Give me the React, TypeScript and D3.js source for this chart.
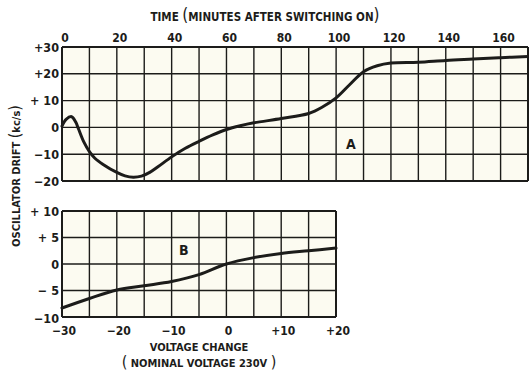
import React from "react";
import * as d3 from "d3";

// curve A: oscillator drift vs time after switching on
const timeMinutes = [0, 1.5, 3.5, 5, 6, 8, 10, 12, 15, 20, 23, 26, 29, 32, 35, 40, 45, 50, 55, 60, 65, 70, 80, 90, 95, 100, 105, 110, 115, 120, 130, 140, 150, 160, 170];
const driftA = [0.5, 3, 4, 2, -0.5, -5.5, -9, -11.5, -13.8, -16.8, -18.1, -18.6, -18.2, -16.8, -14.7, -11, -7.8, -5.2, -2.8, -0.8, 0.6, 1.7, 3.3, 5.2, 7.6, 11, 16, 20.8, 23, 24, 24.3, 25, 25.5, 26, 26.5];

// curve B: oscillator drift vs supply voltage change
const voltageChange = [-30, -25, -20, -15, -10, -5, 0, 5, 10, 15, 20];
const driftB = [-8.3, -6.5, -4.9, -4.1, -3.3, -2, 0, 1.2, 2, 2.5, 3];

const timeTicks = [0, 20, 40, 60, 80, 100, 120, 140, 160];
const driftTicksA = [30, 20, 10, 0, -10, -20];
const driftLabelsA = ["+30", "+20", "+ 10", "0", "\u221210", "\u221220"];
const voltTicks = [-30, -20, -10, 0, 10, 20];
const voltLabels = ["\u221230", "\u221220", "\u221210", "0", "+10", "+20"];
const driftTicksB = [10, 5, 0, -5, -10];
const driftLabelsB = ["+ 10", "+ 5", "0", "\u2212 5", "\u221210"];

const ink = "#1c1c1a";
const font = "'DejaVu Sans', sans-serif";

export default function App() {
  const width = 529;
  const height = 372;

  const xA = d3.scaleLinear().domain([0, 170]).range([62, 528]);
  const yA = d3.scaleLinear().domain([-20, 30]).range([181, 47]);
  const xB = d3.scaleLinear().domain([-30, 20]).range([62, 336]);
  const yB = d3.scaleLinear().domain([-10, 10]).range([317, 211]);

  const lineA = d3
    .line<number>()
    .x((d, i) => xA(timeMinutes[i]))
    .y((d) => yA(d))
    .curve(d3.curveCatmullRom.alpha(0.5));
  const lineB = d3
    .line<number>()
    .x((d, i) => xB(voltageChange[i]))
    .y((d) => yB(d))
    .curve(d3.curveCatmullRom.alpha(0.5));

  const gridA = d3.range(0, 171, 10);
  const gridYA = d3.range(-20, 31, 10);
  const gridB = d3.range(-30, 21, 5);
  const gridYB = d3.range(-10, 11, 5);

  const txt = { fontFamily: font, fontWeight: 700, fontStretch: "condensed", fill: ink } as const;

  return (
    <svg
      width={width}
      height={height}
      style={{ position: "absolute", left: 0, top: 0, background: "#fff" }}
    >
      {/* top chart grid */}
      <rect x={xA(0)} y={yA(30)} width={xA(170) - xA(0)} height={yA(-20) - yA(30)} fill="#fcfbf1" />
      {gridA.map((t) => (
        <line key={"va" + t} x1={xA(t)} x2={xA(t)} y1={yA(30)} y2={yA(-20)} stroke={ink} strokeWidth={t === 0 || t === 170 ? 2 : 1.4} />
      ))}
      {gridYA.map((v) => (
        <line key={"ha" + v} x1={xA(0)} x2={xA(170)} y1={yA(v)} y2={yA(v)} stroke={ink} strokeWidth={v === 30 || v === -20 ? 2 : 1.4} />
      ))}

      {/* bottom chart grid */}
      <rect x={xB(-30)} y={yB(10)} width={xB(20) - xB(-30)} height={yB(-10) - yB(10)} fill="#fcfbf1" />
      {gridB.map((t) => (
        <line key={"vb" + t} x1={xB(t)} x2={xB(t)} y1={yB(10)} y2={yB(-10)} stroke={ink} strokeWidth={t === -30 || t === 20 ? 2 : 1.4} />
      ))}
      {gridYB.map((v) => (
        <line key={"hb" + v} x1={xB(-30)} x2={xB(20)} y1={yB(v)} y2={yB(v)} stroke={ink} strokeWidth={v === 10 || v === -10 ? 2 : 1.4} />
      ))}

      {/* curves */}
      <path d={lineA(driftA) || ""} fill="none" stroke={ink} strokeWidth={3} strokeLinecap="round" />
      <path d={lineB(driftB) || ""} fill="none" stroke={ink} strokeWidth={3} strokeLinecap="round" />

      <text x={346} y={149} fontSize={14} {...txt}>A</text>
      <text x={179} y={255} fontSize={14} {...txt}>B</text>

      {/* top axis */}
      <text x={265} y={21} fontSize={11.5} textAnchor="middle" {...txt}>
        TIME <tspan fontSize={17} fontWeight={400}>(</tspan>MINUTES AFTER SWITCHING ON<tspan fontSize={17} fontWeight={400}>)</tspan>
      </text>
      {timeTicks.map((t) => (
        <text key={"tt" + t} x={xA(t) + 3} y={42} fontSize={12} textAnchor="middle" {...txt}>
          {t}
        </text>
      ))}
      {driftTicksA.map((v, i) => (
        <text key={"ya" + v} x={59} y={yA(v) + 4.5} fontSize={12.5} textAnchor="end" {...txt}>
          {driftLabelsA[i]}
        </text>
      ))}

      {/* bottom axis */}
      {voltTicks.map((t, i) => (
        <text key={"vt" + t} x={xB(t) + 2} y={335} fontSize={12} textAnchor="middle" {...txt}>
          {voltLabels[i]}
        </text>
      ))}
      {driftTicksB.map((v, i) => (
        <text key={"yb" + v} x={59} y={yB(v) + 4.5 + (v === -10 ? 1 : 0)} fontSize={12.5} textAnchor="end" {...txt}>
          {driftLabelsB[i]}
        </text>
      ))}
      <text x={199} y={351} fontSize={11} textAnchor="middle" {...txt}>VOLTAGE CHANGE</text>
      <text x={199} y={367} fontSize={11} textAnchor="middle" {...txt}>
        <tspan fontSize={16} fontWeight={400}>(</tspan> NOMINAL VOLTAGE 230V <tspan fontSize={16} fontWeight={400}>)</tspan>
      </text>

      {/* y title */}
      <text transform="translate(20,176) rotate(-90)" fontSize={11} textAnchor="middle" {...txt}>
        OSCILLATOR DRIFT <tspan fontSize={16} fontWeight={400}>(</tspan>kc/s<tspan fontSize={16} fontWeight={400}>)</tspan>
      </text>
    </svg>
  );
}
